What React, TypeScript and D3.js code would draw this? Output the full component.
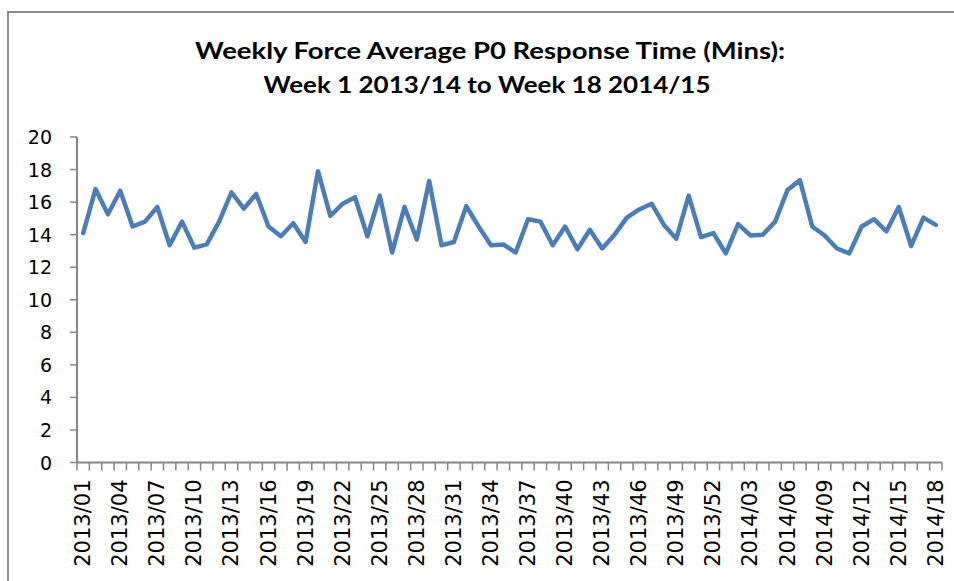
import React from 'react';
import * as d3 from 'd3';

// week labels (2013 weeks 1-52, then 2014 weeks 1-18)
const weeks2013 = d3.range(1, 53).map((w) => `2013/${String(w).padStart(2, '0')}`);
const weeks2014 = d3.range(1, 19).map((w) => `2014/${String(w).padStart(2, '0')}`);
const weeks = [...weeks2013, ...weeks2014];

// average P0 response time in minutes
const values2013 = [
  14.1, 16.8, 15.25, 16.7, 14.5, 14.8, 15.7, 13.35, 14.8, 13.2,
  13.4, 14.8, 16.6, 15.6, 16.5, 14.5, 13.9, 14.7, 13.55, 17.9,
  15.15, 15.9, 16.3, 13.9, 16.4, 12.9, 15.7, 13.7, 17.3, 13.35,
  13.55, 15.75, 14.5, 13.35, 13.4, 12.9, 14.95, 14.8, 13.35, 14.5,
  13.1, 14.3, 13.15, 14.0, 15.05, 15.55, 15.9, 14.6, 13.75, 16.4,
  13.85, 14.1
];
const values2014 = [
  12.85, 14.65, 13.95, 14.0, 14.8, 16.75, 17.35, 14.5, 13.95, 13.15,
  12.85, 14.5, 14.95, 14.2, 15.7, 13.3, 15.05, 14.6
];
const values = [...values2013, ...values2014];

const yTicks = [0, 2, 4, 6, 8, 10, 12, 14, 16, 18, 20];
const titleLines = [
  'Weekly Force Average P0 Response Time (Mins):',
  'Week 1 2013/14 to Week 18 2014/15'
];

const width = 954;
const height = 581;
const margin = { t: 137, r: 12, b: 118.5, l: 77 };

export default function App(): JSX.Element {
  const x = d3.scaleBand<string>().domain(weeks).range([margin.l, width - margin.r]).padding(0);
  const y = d3.scaleLinear().domain([0, 20]).range([height - margin.b, margin.t]);
  const cx = (w: string) => (x(w) as number) + x.bandwidth() / 2;

  const line = d3
    .line<number>()
    .x((_, i) => cx(weeks[i]))
    .y((d) => y(d));

  const axisColor = '#868686';
  const y0 = y(0);

  // tick marks sit on the category boundaries
  const boundaries = d3.range(weeks.length + 1).map((i) => margin.l + i * x.bandwidth());

  return (
    <svg
      width={width}
      height={height}
      style={{ position: 'absolute', left: 0, top: 0, background: '#fff' }}
    >
      {/* chart frame */}
      <rect x={8} y={12} width={1000} height={700} fill="#fff" stroke="#8c8c8c" strokeWidth={2} />

      {/* title */}
      <g fontFamily="Lato, sans-serif" fontWeight={700} fontSize={22} fill="#000">
        <text x={490} y={59} textAnchor="middle" textLength={590} lengthAdjust="spacingAndGlyphs">
          {titleLines[0]}
        </text>
        <text x={487} y={93} textAnchor="middle" textLength={447} lengthAdjust="spacingAndGlyphs">
          {titleLines[1]}
        </text>
      </g>

      {/* y axis */}
      <g fontFamily="'DejaVu Sans', sans-serif" fontSize={19} fill="#000">
        <line x1={margin.l} x2={margin.l} y1={margin.t} y2={y0} stroke={axisColor} strokeWidth={2} />
        {yTicks.map((t) => (
          <g key={t}>
            <line x1={margin.l - 7} x2={margin.l} y1={y(t)} y2={y(t)} stroke={axisColor} strokeWidth={1.5} />
            <text x={52} y={y(t)} textAnchor="end" dominantBaseline="central">
              {t}
            </text>
          </g>
        ))}
      </g>

      {/* x axis */}
      <g fontFamily="'DejaVu Sans', sans-serif" fontSize={21} fill="#000">
        <line x1={margin.l} x2={width - margin.r} y1={y0} y2={y0} stroke={axisColor} strokeWidth={2} />
        {boundaries.map((bx, i) => (
          <line key={i} x1={bx} x2={bx} y1={y0} y2={y0 + 8} stroke={axisColor} strokeWidth={1.5} />
        ))}
        {weeks.map((w, i) =>
          i % 3 === 0 ? (
            <text
              key={w}
              transform={`translate(${cx(w)},${y0 + 17}) rotate(-90)`}
              textAnchor="end"
              dominantBaseline="central"
            >
              {w}
            </text>
          ) : null
        )}
      </g>

      {/* series */}
      <path
        d={line(values) || ''}
        fill="none"
        stroke="#4a7ebb"
        strokeWidth={4.5}
        strokeLinejoin="round"
        strokeLinecap="round"
      />
    </svg>
  );
}
